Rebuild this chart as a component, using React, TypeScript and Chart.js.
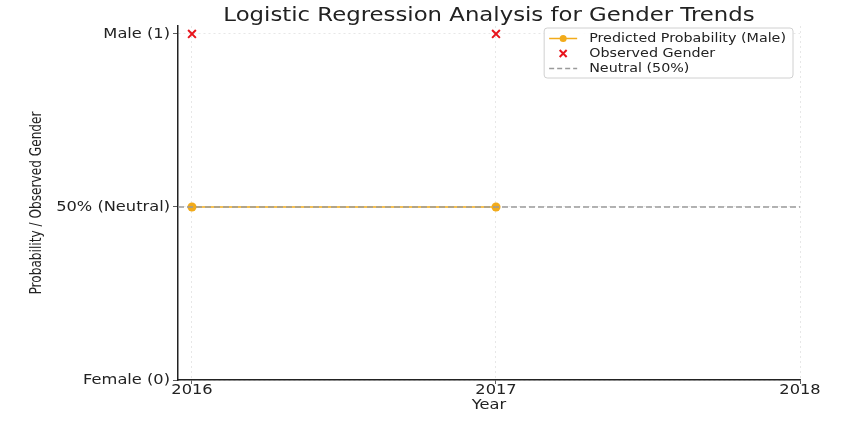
import { useEffect, useRef } from "react";
import { Chart, registerables } from "chart.js";

Chart.register(...registerables);

const years = [2016, 2017];
const predicted = [0.5, 0.5];
const observed = [1, 1];
const neutralYears = [2015.954, 2018];
const neutralValues = [0.5, 0.5];
const xTicks = [2016, 2017, 2018];
const yTicks = [0, 0.5, 1];
const yTickLabels = ["Female (0)", "50% (Neutral)", "Male (1)"];

const ORANGE = "#f2ab1a";
const RED = "#e8141c";
const GREY = "#9a9a9a";
const FONT = "'DejaVu Sans', sans-serif";

// the reference picture is a bit wide, so text gets stretched along the page x
let stretch = 1.16;

function stretchText(ctx: any) {
  const fill = ctx.fillText.bind(ctx);
  const measure = ctx.measureText.bind(ctx);
  ctx.fillText = (text: string, x: number, y: number) => {
    if (stretch === 1) return fill(text, x, y);
    const t = ctx.getTransform();
    const p = t.transformPoint(new DOMPoint(x, y));
    const m = new DOMMatrix()
      .translate(p.x, p.y)
      .scale(stretch, 1)
      .translate(-p.x, -p.y)
      .multiply(t);
    ctx.save();
    ctx.setTransform(m);
    fill(text, x, y);
    ctx.restore();
  };
  ctx.measureText = (text: string) => {
    const m = measure(text);
    return {
      width: m.width * stretch,
      actualBoundingBoxAscent: m.actualBoundingBoxAscent,
      actualBoundingBoxDescent: m.actualBoundingBoxDescent,
    };
  };
}

// title + legend box drawn by hand, matplotlib style
const customDraw = {
  id: "customDraw",
  afterDraw(chart: any) {
    const { ctx, chartArea } = chart;
    ctx.save();
    stretch = 1.2;
    ctx.fillStyle = "#222";
    ctx.font = `19px ${FONT}`;
    ctx.textAlign = "center";
    ctx.textBaseline = "middle";
    ctx.fillText(
      "Logistic Regression Analysis for Gender Trends",
      (chartArea.left + chartArea.right) / 2,
      16
    );

    stretch = 1.1;
    const labels = chart.data.datasets.map((d: any) => d.label);
    ctx.font = `13px ${FONT}`;
    const textW = Math.max(...labels.map((l: string) => ctx.measureText(l).width));
    const w = 45 + textW + 7;
    const h = 50;
    const x0 = chartArea.right - 7 - w;
    const y0 = chartArea.top + 2;
    ctx.fillStyle = "rgba(255,255,255,0.85)";
    ctx.strokeStyle = "#d0d0d0";
    ctx.lineWidth = 1;
    ctx.beginPath();
    ctx.roundRect(x0, y0, w, h, 3);
    ctx.fill();
    ctx.stroke();

    const hx1 = x0 + 5;
    const hx2 = x0 + 33;
    const hc = (hx1 + hx2) / 2;
    labels.forEach((l: string, i: number) => {
      const y = y0 + 10.5 + i * 15;
      if (i === 0) {
        ctx.strokeStyle = ORANGE;
        ctx.lineWidth = 1.5;
        ctx.setLineDash([]);
        ctx.beginPath();
        ctx.moveTo(hx1, y);
        ctx.lineTo(hx2, y);
        ctx.stroke();
        ctx.fillStyle = ORANGE;
        ctx.beginPath();
        ctx.arc(hc, y, 3.5, 0, Math.PI * 2);
        ctx.fill();
      } else if (i === 1) {
        ctx.strokeStyle = RED;
        ctx.lineWidth = 2;
        ctx.beginPath();
        ctx.moveTo(hc - 3.5, y - 3.5);
        ctx.lineTo(hc + 3.5, y + 3.5);
        ctx.moveTo(hc - 3.5, y + 3.5);
        ctx.lineTo(hc + 3.5, y - 3.5);
        ctx.stroke();
      } else {
        ctx.strokeStyle = GREY;
        ctx.lineWidth = 1.5;
        ctx.setLineDash([5, 3]);
        ctx.beginPath();
        ctx.moveTo(hx1, y);
        ctx.lineTo(hx2, y);
        ctx.stroke();
        ctx.setLineDash([]);
      }
      ctx.fillStyle = "#222";
      ctx.font = `13px ${FONT}`;
      ctx.textAlign = "left";
      ctx.textBaseline = "middle";
      ctx.fillText(l, x0 + 45, y);
    });
    stretch = 1.16;
    ctx.restore();
  },
};

export default function App() {
  const ref = useRef<HTMLCanvasElement>(null);

  useEffect(() => {
    document.body.style.margin = "0";
    if (!ref.current) return;
    stretchText(ref.current.getContext("2d"));
    const chart = new Chart(ref.current, {
      type: "line",
      data: {
        datasets: [
          {
            label: "Predicted Probability (Male)",
            data: years.map((x, i) => ({ x, y: predicted[i] })),
            borderColor: ORANGE,
            backgroundColor: ORANGE,
            borderWidth: 1.5,
            pointRadius: 4.5,
            pointBorderWidth: 0,
            order: 2,
          },
          {
            label: "Observed Gender",
            data: years.map((x, i) => ({ x, y: observed[i] })),
            borderColor: RED,
            backgroundColor: RED,
            showLine: false,
            pointStyle: "crossRot",
            pointRadius: 5.5,
            pointBorderWidth: 2,
            order: 1,
          },
          {
            label: "Neutral (50%)",
            data: neutralYears.map((x, i) => ({ x, y: neutralValues[i] })),
            borderColor: GREY,
            borderWidth: 1.5,
            borderDash: [6, 3],
            pointRadius: 0,
            order: 0,
          },
        ],
      },
      options: {
        animation: false,
        responsive: true,
        maintainAspectRatio: false,
        layout: { padding: { left: 0, right: 44, top: 26, bottom: 0 } },
        plugins: {
          legend: { display: false },
          title: { display: false },
          tooltip: { enabled: false },
        },
        scales: {
          x: {
            type: "linear",
            min: neutralYears[0],
            max: neutralYears[1],
            afterBuildTicks: (s: any) => {
              s.ticks = xTicks.map((value) => ({ value }));
            },
            afterFit: (s: any) => {
              s.height = 41;
            },
            ticks: {
              autoSkip: false,
              maxRotation: 0,
              padding: -2,
              color: "#222",
              font: { family: FONT, size: 14 },
              callback: (v: any) => String(v),
            },
            grid: {
              color: "rgba(0,0,0,0.12)",
              lineWidth: 0.8,
              tickColor: "#333",
              tickLength: 4,
              tickBorderDash: [],
            },
            border: { display: true, color: "#222", width: 1.5, dash: [2, 3] },
            title: {
              display: true,
              text: "Year",
              color: "#222",
              font: { family: FONT, size: 14 },
              padding: { top: 0, bottom: 7 },
            },
          },
          y: {
            type: "linear",
            min: 0,
            max: 1.023,
            afterBuildTicks: (s: any) => {
              s.ticks = yTicks.map((value) => ({ value }));
            },
            afterFit: (s: any) => {
              s.width = 178;
            },
            ticks: {
              autoSkip: false,
              padding: 3,
              color: "#222",
              font: { family: FONT, size: 14 },
              callback: (v: any) => yTickLabels[yTicks.indexOf(Number(v))],
            },
            grid: {
              color: "rgba(0,0,0,0.12)",
              lineWidth: 0.8,
              tickColor: "#333",
              tickLength: 5,
              tickBorderDash: [],
            },
            border: { display: true, color: "#222", width: 1.5, dash: [2, 3] },
            title: {
              display: true,
              text: "Probability / Observed Gender",
              color: "#222",
              font: { family: "'DejaVu Sans Condensed', sans-serif", size: 13.5 },
              padding: { top: 29, bottom: 0 },
            },
          },
        },
      },
      plugins: [customDraw],
    });
    return () => chart.destroy();
  }, []);

  return (
    <div style={{ width: 844, height: 421, position: "relative" }}>
      <canvas ref={ref} />
    </div>
  );
}
